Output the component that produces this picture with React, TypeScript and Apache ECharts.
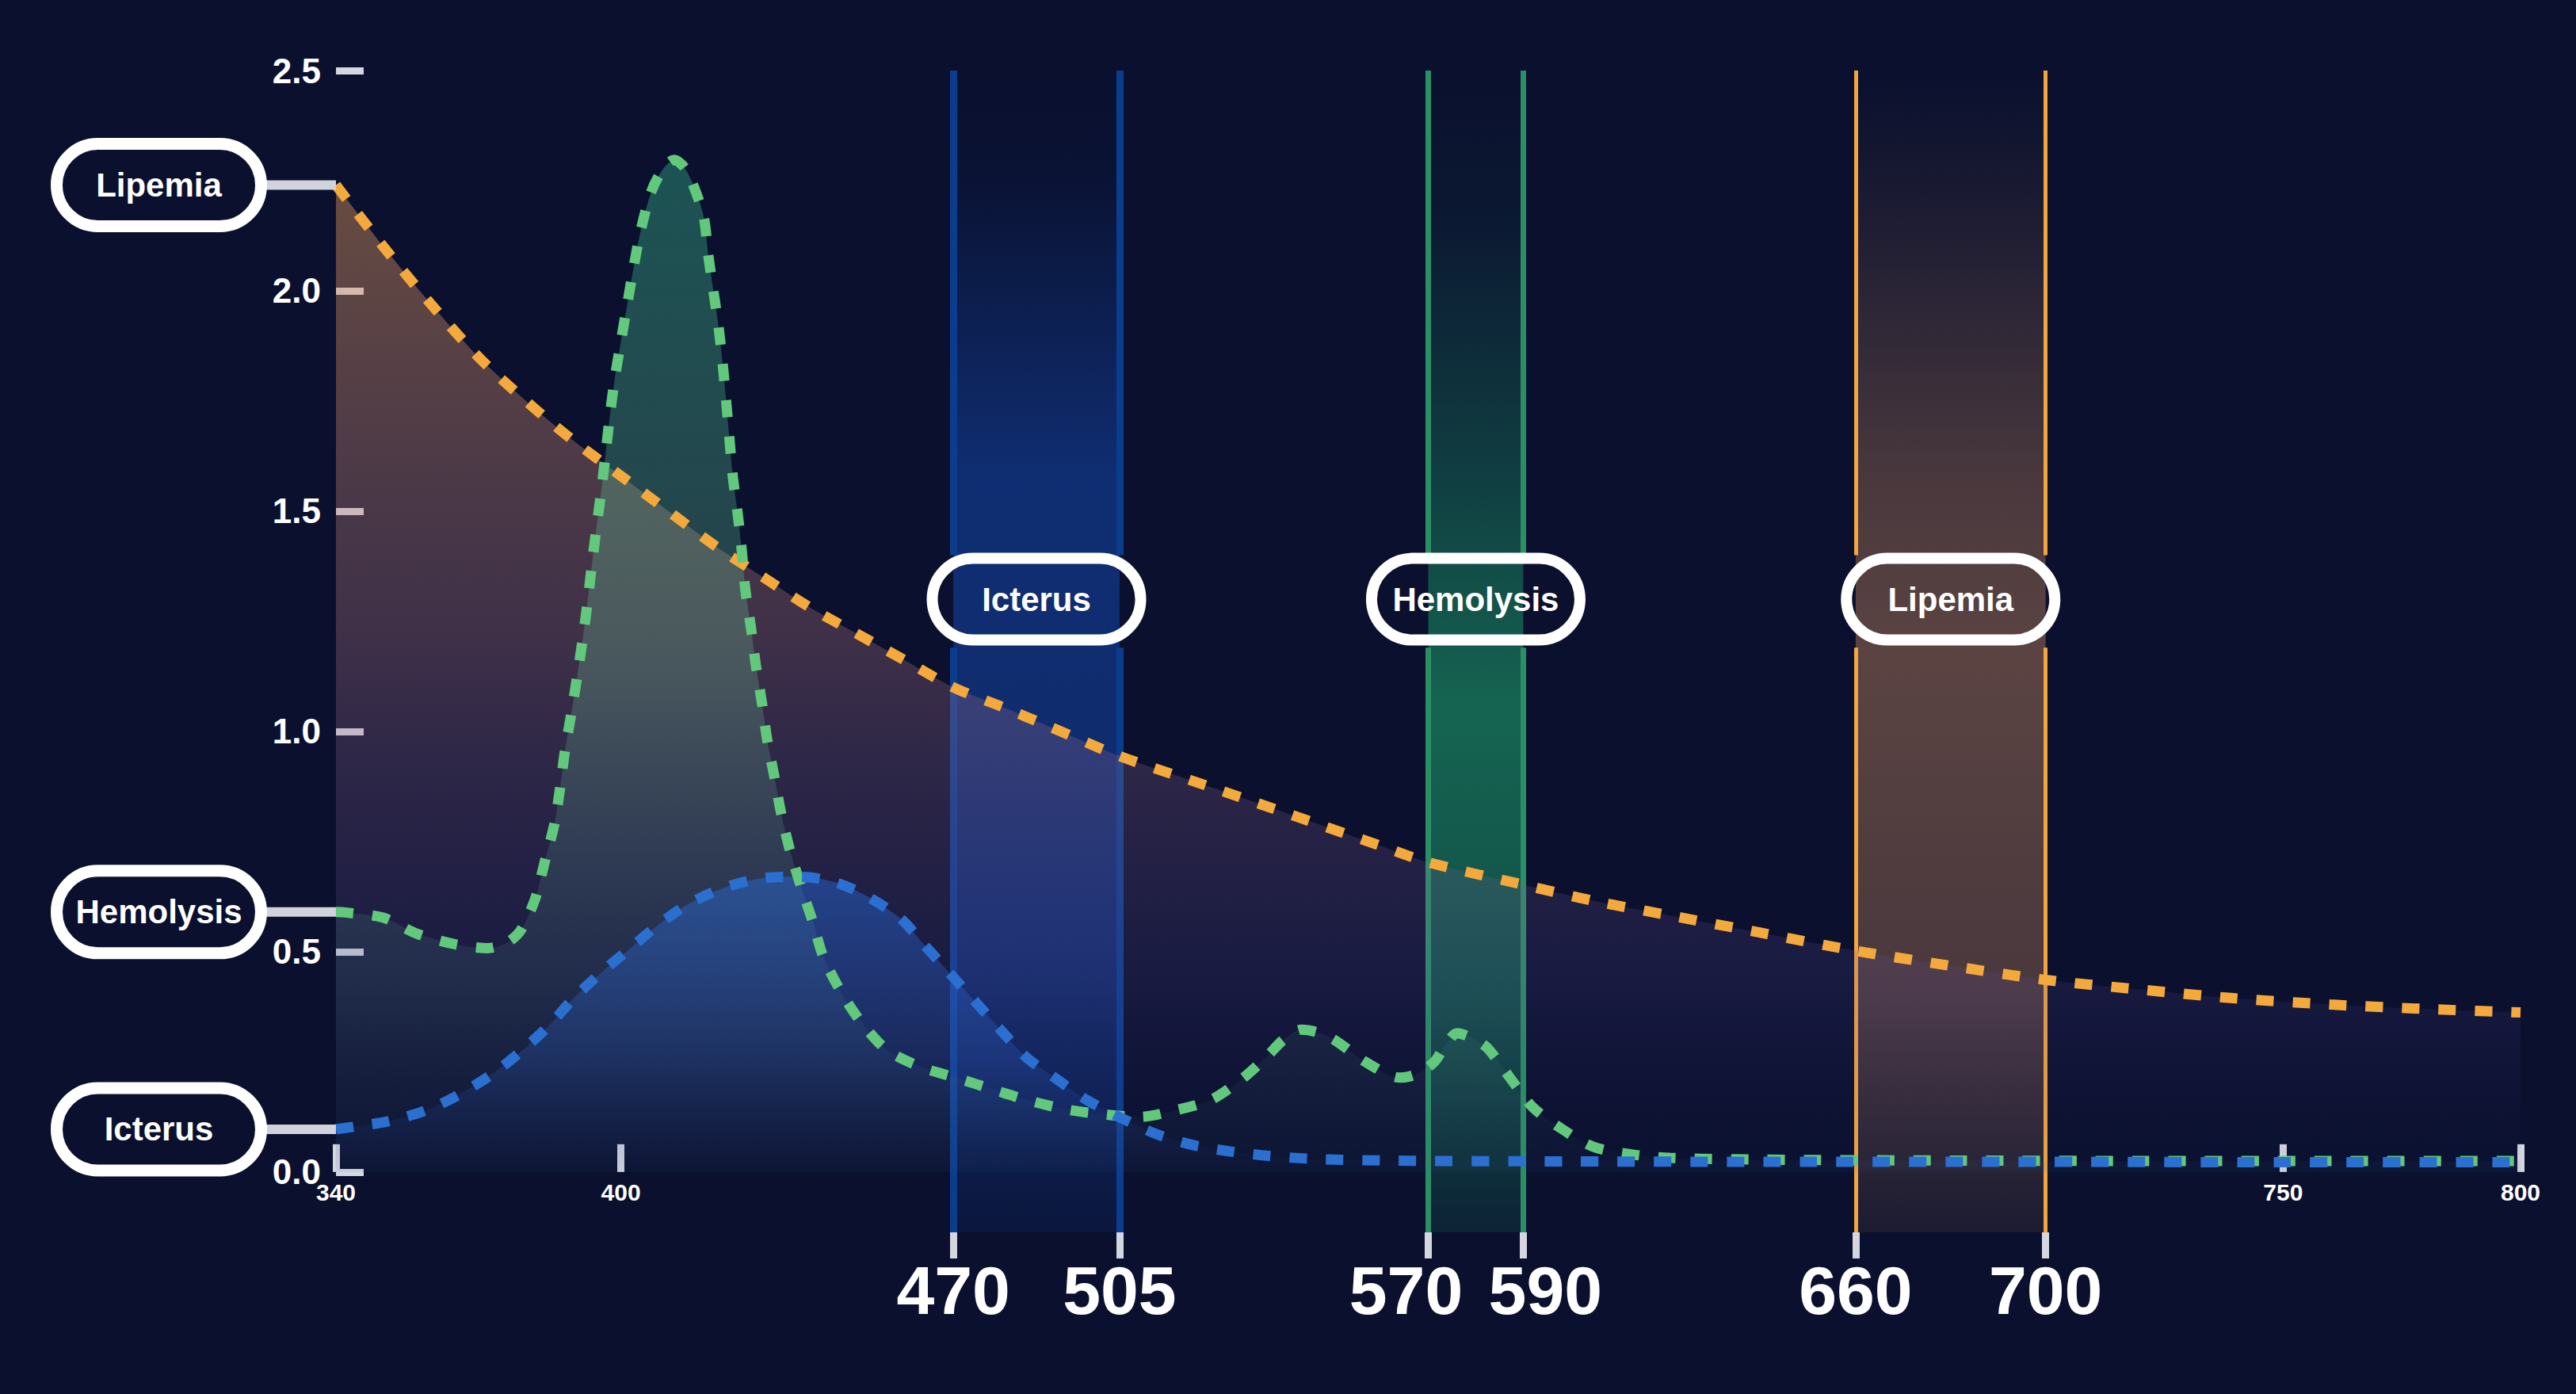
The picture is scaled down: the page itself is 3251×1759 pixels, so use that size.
import React, { useEffect, useRef } from 'react';
import * as echarts from 'echarts';

const W = 3251;
const H = 1759;
const BG = '#0a102e';
const FONT = 'Liberation Sans';

// ---- data (wavelength nm, absorbance) ----
const lipemiaNm = [340, 350, 360, 370, 380, 390, 400, 410, 420, 430, 440, 450, 460, 470, 480, 490, 505, 520, 540, 560, 570, 590, 605, 620, 640, 660, 680, 700, 720, 740, 760, 780, 800];
const lipemiaVal = [2.24, 2.1, 1.97, 1.85, 1.75, 1.66, 1.58, 1.5, 1.42, 1.35, 1.28, 1.22, 1.16, 1.1, 1.057, 1.012, 0.944, 0.889, 0.815, 0.74, 0.703, 0.652, 0.615, 0.584, 0.543, 0.502, 0.468, 0.436, 0.414, 0.394, 0.38, 0.37, 0.362];

const hemolysisNm = [340, 342, 350, 357, 365, 372, 376, 379, 382, 384, 386, 387.2, 388.2, 389.6, 390.8, 392, 393, 393.9, 394.9, 395.9, 396.8, 397.7, 398.7, 400, 401.4, 402.7, 404.2, 406.4, 408.8, 411.2, 413.2, 415, 417.4, 418.4, 419.5, 420.6, 421.5, 422.2, 422.9, 423.6, 424.6, 425.5, 426.2, 427.4, 428.4, 429.7, 430.8, 432.3, 433.7, 435.6, 438, 440.4, 442.6, 446.4, 450.6, 456, 463, 470.5, 479, 485.3, 493.7, 501.6, 509.3, 516.7, 524.3, 531, 536.2, 539.5, 543.3, 547, 550.5, 556.9, 564.1, 567.5, 571.2, 573.5, 576.1, 579, 582.4, 587.2, 592, 598.1, 604.8, 612.8, 620.8, 640, 680, 720, 760, 800];
const hemolysisVal = [0.59, 0.589, 0.577, 0.541, 0.517, 0.508, 0.52, 0.55, 0.622, 0.706, 0.79, 0.872, 0.955, 1.043, 1.126, 1.213, 1.296, 1.379, 1.466, 1.549, 1.632, 1.719, 1.8, 1.885, 1.973, 2.055, 2.138, 2.225, 2.275, 2.297, 2.282, 2.246, 2.17, 2.08, 1.998, 1.915, 1.827, 1.745, 1.658, 1.575, 1.493, 1.405, 1.322, 1.234, 1.151, 1.064, 0.981, 0.898, 0.816, 0.73, 0.645, 0.568, 0.489, 0.408, 0.34, 0.277, 0.239, 0.214, 0.185, 0.164, 0.142, 0.131, 0.125, 0.14, 0.164, 0.213, 0.264, 0.3, 0.323, 0.316, 0.298, 0.249, 0.214, 0.222, 0.249, 0.285, 0.315, 0.305, 0.282, 0.214, 0.147, 0.098, 0.057, 0.04, 0.032, 0.028, 0.026, 0.025, 0.025, 0.025];

const icterusNm = [340, 344, 351, 359, 366, 373, 379, 385, 390, 396, 402, 408, 414.5, 422, 430, 437.5, 445, 452, 459, 464, 469.5, 474.5, 480, 485.5, 492, 498, 506, 513, 520.5, 528, 535, 545, 560, 600, 650, 700, 750, 800];
const icterusVal = [0.097, 0.103, 0.115, 0.14, 0.176, 0.223, 0.274, 0.334, 0.394, 0.454, 0.508, 0.562, 0.61, 0.646, 0.667, 0.67, 0.658, 0.625, 0.574, 0.514, 0.448, 0.388, 0.322, 0.259, 0.209, 0.164, 0.119, 0.085, 0.061, 0.047, 0.038, 0.03, 0.026, 0.024, 0.023, 0.023, 0.022, 0.022];

// bands (nm)
const bandNames = ['Icterus', 'Hemolysis', 'Lipemia'];
const bandStart = [470, 570, 660];
const bandEnd = [505, 590, 700];

// tick labels
const smallTicks = [340, 400, 750, 800];
const bandTicks = [470, 505, 570, 590, 660, 700];
const yTicks = [0, 0.5, 1.0, 1.5, 2.0, 2.5];

const X_MIN = 340;
const X_MAX = 800;
const Y_MIN = -0.137;
const Y_MAX = 2.5;
const BAND_TAG_Y = 1.3;
const BAND_GAP_TOP = 1.4;
const BAND_GAP_BOTTOM = 1.19;

// grid geometry
const GRID_LEFT = 424;
const GRID_RIGHT = 70;
const GRID_TOP = 89;
const GRID_BOTTOM = 204;
const GRID_H = H - GRID_TOP - GRID_BOTTOM;
const ZERO_OFFSET = -((0 - Y_MIN) / (Y_MAX - Y_MIN)) * GRID_H;

const pairs = (xs: number[], ys: number[]) => xs.map((x, i) => [x, ys[i]]);

const lg = (stops: [number, string][]) =>
  new echarts.graphic.LinearGradient(0, 0, 0, 1, stops.map(([offset, color]) => ({ offset, color })));

const curves = [
  {
    name: 'Lipemia', nm: lipemiaNm, val: lipemiaVal, color: '#f4a93c',
    area: lg([[0, 'rgba(220,150,88,0.64)'], [0.45, 'rgba(180,120,130,0.45)'], [0.8, 'rgba(100,80,160,0.24)'], [1, 'rgba(40,40,110,0.04)']]),
  },
  {
    name: 'Hemolysis', nm: hemolysisNm, val: hemolysisVal, color: '#62c87c',
    area: lg([[0, 'rgba(60,200,150,0.52)'], [0.5, 'rgba(110,200,150,0.38)'], [1, 'rgba(90,150,150,0.04)']]),
  },
  {
    name: 'Icterus', nm: icterusNm, val: icterusVal, color: '#2b6fd0',
    area: lg([[0, 'rgba(40,115,235,0.6)'], [0.6, 'rgba(50,105,210,0.34)'], [1, 'rgba(40,80,180,0.03)']]),
  },
];

const bandStyles = [
  {
    line: '#0b3d8f', width: 9,
    fill: lg([[0, 'rgba(20,70,170,0)'], [0.1, 'rgba(20,70,170,0.06)'], [0.35, 'rgba(20,70,170,0.55)'], [0.75, 'rgba(20,70,170,0.5)'], [1, 'rgba(20,70,170,0.12)']]),
  },
  {
    line: '#2a9063', width: 7,
    fill: lg([[0, 'rgba(30,170,110,0)'], [0.12, 'rgba(30,170,110,0.05)'], [0.35, 'rgba(30,170,110,0.3)'], [0.55, 'rgba(30,170,110,0.55)'], [0.8, 'rgba(30,170,110,0.4)'], [1, 'rgba(30,170,110,0.12)']]),
  },
  {
    line: '#f2a540', width: 5,
    fill: lg([[0, 'rgba(190,130,90,0)'], [0.1, 'rgba(190,130,90,0.08)'], [0.35, 'rgba(190,130,90,0.35)'], [0.5, 'rgba(190,130,90,0.45)'], [0.8, 'rgba(190,130,90,0.35)'], [1, 'rgba(190,130,90,0.1)']]),
  },
];

const tickColor = '#d4d6e0';

function buildOption() {
  const markAreaData = bandNames.map((_, i) => [
    { xAxis: bandStart[i], itemStyle: { color: bandStyles[i].fill } },
    { xAxis: bandEnd[i] },
  ]);
  const markLineData: any[] = [];
  bandNames.forEach((_, i) => {
    [bandStart[i], bandEnd[i]].forEach((x) => {
      const ls = { color: bandStyles[i].line, width: bandStyles[i].width, type: 'solid' };
      markLineData.push([{ coord: [x, Y_MAX], lineStyle: ls }, { coord: [x, BAND_GAP_TOP] }]);
      markLineData.push([{ coord: [x, BAND_GAP_BOTTOM], lineStyle: ls }, { coord: [x, Y_MIN] }]);
    });
  });

  const areaSeries = curves.map((c, idx) => ({
    type: 'line',
    name: c.name + ' area',
    xAxisIndex: 0,
    yAxisIndex: 0,
    data: pairs(c.nm, c.val),
    smooth: 0.3,
    symbol: 'none',
    silent: true,
    z: 2,
    lineStyle: { width: 0, opacity: 0 },
    areaStyle: { color: c.area, origin: 'auto' },
    ...(idx === 0
      ? {
          markArea: { silent: true, z: 1, data: markAreaData },
          markLine: { silent: true, z: 2, symbol: ['none', 'none'], label: { show: false }, data: markLineData },
        }
      : {}),
  }));

  const lineSeries = curves.map((c) => ({
    type: 'line',
    name: c.name,
    xAxisIndex: 0,
    yAxisIndex: 0,
    data: pairs(c.nm, c.val),
    smooth: 0.3,
    symbol: 'none',
    z: 3,
    lineStyle: { color: c.color, width: 13, type: [22, 24] },
  }));

  return {
    animation: false,
    backgroundColor: BG,
    grid: { left: GRID_LEFT, right: GRID_RIGHT, top: GRID_TOP, bottom: GRID_BOTTOM, containLabel: false },
    xAxis: [
      {
        type: 'value', min: X_MIN, max: X_MAX, position: 'bottom', offset: ZERO_OFFSET,
        axisLine: { show: true, onZero: false, lineStyle: { opacity: 0 } },
        splitLine: { show: false },
        axisTick: { show: true, inside: true, length: 35, customValues: smallTicks, lineStyle: { color: tickColor, width: 9 } },
        axisLabel: { customValues: smallTicks, color: '#ffffff', fontSize: 30, fontWeight: 'bold', fontFamily: FONT, margin: 11 },
      },
      {
        type: 'value', min: X_MIN, max: X_MAX, position: 'bottom',
        axisLine: { show: true, onZero: false, lineStyle: { opacity: 0 } },
        splitLine: { show: false },
        axisTick: { show: true, inside: false, length: 33, customValues: bandTicks, lineStyle: { color: tickColor, width: 9 } },
        axisLabel: {
          customValues: bandTicks,
          margin: 30,
          color: '#ffffff', fontSize: 86, fontWeight: 'bold', fontFamily: FONT,
          formatter: (v: number) => (v === 570 ? '{l|570}' : v === 590 ? '{r|590}' : '{c|' + v + '}'),
          rich: {
            c: { color: '#ffffff', fontSize: 86, fontWeight: 'bold', fontFamily: FONT },
            l: { color: '#ffffff', fontSize: 86, fontWeight: 'bold', fontFamily: FONT, padding: [0, 56, 0, 0] },
            r: { color: '#ffffff', fontSize: 86, fontWeight: 'bold', fontFamily: FONT, padding: [0, 0, 0, 56] },
          },
        },
      },
    ],
    yAxis: [
      {
        type: 'value', min: Y_MIN, max: Y_MAX,
        axisLine: { show: false },
        splitLine: { show: false },
        axisTick: { show: true, inside: true, length: 35, customValues: yTicks, lineStyle: { color: tickColor, width: 9 } },
        axisLabel: {
          customValues: yTicks,
          formatter: (v: number) => v.toFixed(1),
          color: '#ffffff', fontSize: 44, fontWeight: 'bold', fontFamily: FONT,
          margin: 19, padding: [0, 0, 16, 0],
        },
      },
    ],
    series: [...areaSeries, ...lineSeries],
  };
}

function buildGraphic(chart: echarts.ECharts) {
  const toPx = (x: number, y: number) => chart.convertToPixel({ seriesIndex: 0 }, [x, y]) as number[];
  const els: any[] = [];
  const font = `bold 42px "${FONT}"`;

  // left tags attached to each curve's first point
  curves.forEach((c) => {
    const p = toPx(c.nm[0], c.val[0]);
    const conn = 87;
    const right = p[0] - conn;
    const pw = 258;
    const ph = 104;
    els.push({
      type: 'line', z: 20, silent: true,
      shape: { x1: right - 4, y1: p[1], x2: p[0], y2: p[1] },
      style: { stroke: '#d0d2dc', lineWidth: 12 },
    });
    els.push({
      type: 'rect', z: 21, silent: true,
      shape: { x: right - 7.5 - pw, y: p[1] - ph / 2, width: pw, height: ph, r: ph / 2 },
      style: { fill: BG, stroke: '#ffffff', lineWidth: 15 },
    });
    els.push({
      type: 'text', z: 22, silent: true,
      style: {
        text: c.name, x: right - 7.5 - pw / 2, y: p[1], fill: '#ffffff', font,
        textAlign: 'center', textVerticalAlign: 'middle', align: 'center', verticalAlign: 'middle',
      },
    });
  });

  // band tags
  bandNames.forEach((name, i) => {
    const p = toPx((bandStart[i] + bandEnd[i]) / 2, BAND_TAG_Y);
    const pw = 263;
    const ph = 103;
    els.push({
      type: 'rect', z: 21, silent: true,
      shape: { x: p[0] - pw / 2, y: p[1] - ph / 2, width: pw, height: ph, r: ph / 2 },
      style: { fill: 'rgba(0,0,0,0)', stroke: '#ffffff', lineWidth: 14 },
    });
    els.push({
      type: 'text', z: 22, silent: true,
      style: {
        text: name, x: p[0], y: p[1], fill: '#ffffff', font,
        textAlign: 'center', textVerticalAlign: 'middle', align: 'center', verticalAlign: 'middle',
      },
    });
  });
  return els;
}

export default function App() {
  const ref = useRef<HTMLDivElement>(null);
  useEffect(() => {
    document.body.style.margin = '0';
    document.body.style.background = BG;
    if (!ref.current) return;
    const chart = echarts.init(ref.current, null, { renderer: 'svg', width: W, height: H });
    chart.setOption(buildOption() as any);
    chart.setOption({ graphic: buildGraphic(chart) } as any);
    return () => chart.dispose();
  }, []);
  return (
    <div
      ref={ref}
      style={{ position: 'fixed', left: 0, top: 0, width: W, height: H, background: BG }}
    />
  );
}
